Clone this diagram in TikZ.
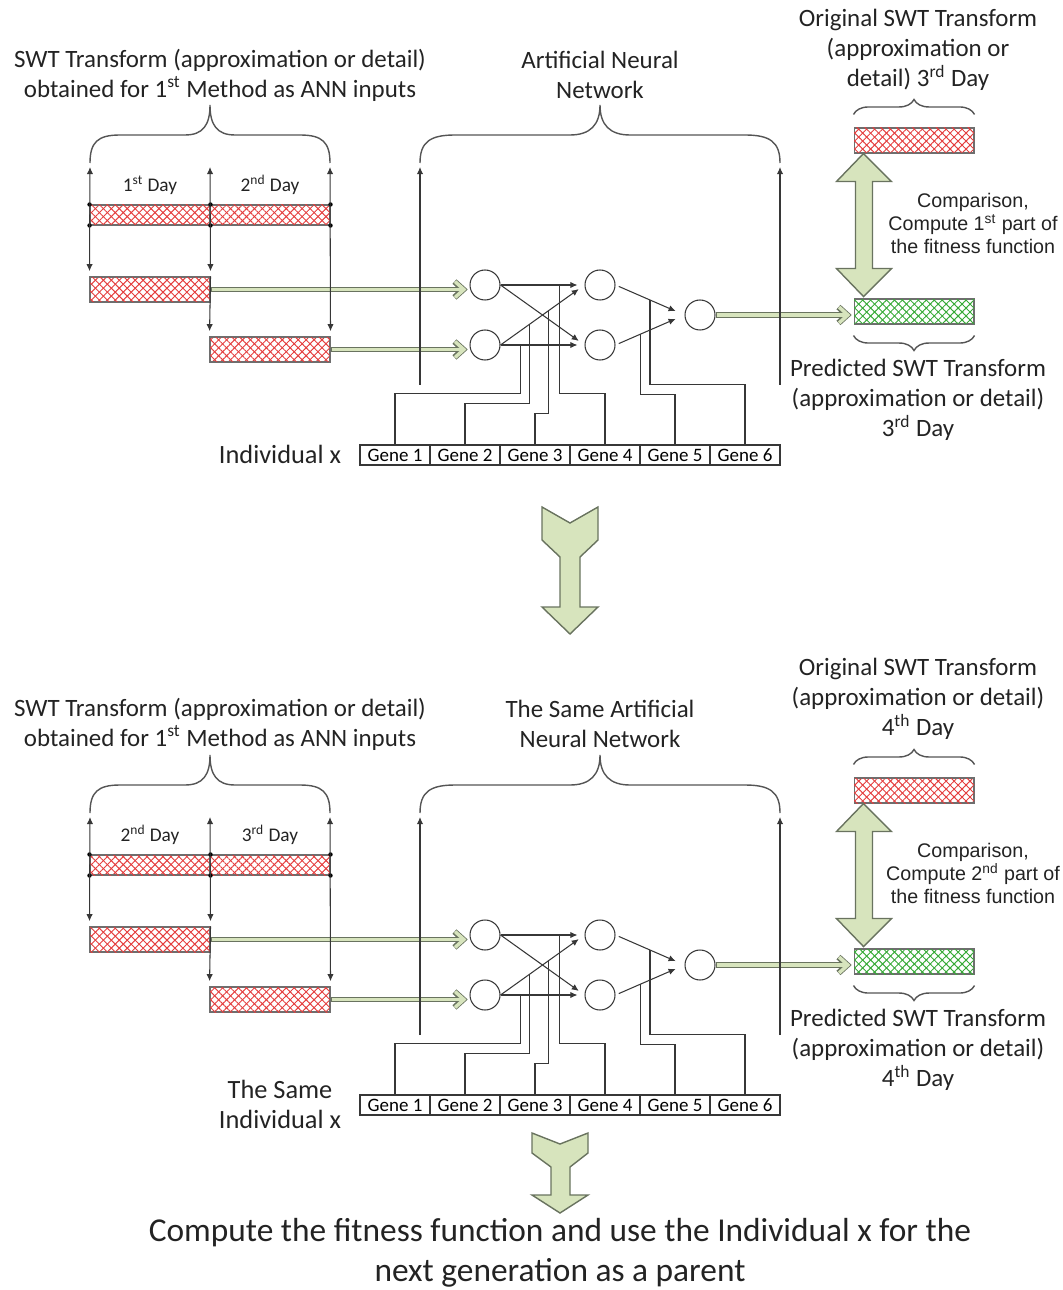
\documentclass[tikz,border=0pt]{standalone}
\usepackage{fontspec}
\setmainfont{Carlito}
\newfontfamily\arialfont{Liberation Sans}
\usetikzlibrary{positioning,calc,arrows.meta,patterns.meta,decorations.pathreplacing}
\definecolor{hatchred}{RGB}{228,62,62}
\definecolor{hatchgreen}{RGB}{55,170,55}
\definecolor{barline}{RGB}{110,110,110}
\definecolor{arrowgreen}{RGB}{215,228,189}
\definecolor{arrowedge}{RGB}{105,115,95}
\definecolor{wirecol}{RGB}{55,55,55}
\definecolor{textcol}{RGB}{35,35,35}
\tikzset{>={Latex[length=4pt,width=3.6pt]},
x=0.02cm,y=-0.02cm,
wire/.style={draw=wirecol,line width=0.6pt},
hatchbar/.style={draw=barline,line width=0.6pt,minimum width=2.4cm,inner sep=0pt,
  pattern={Lines[angle=45,distance=3.2pt,line width=0.55pt]},pattern color=#1,
  postaction={pattern={Lines[angle=-45,distance=3.2pt,line width=0.55pt]},pattern color=#1}},
neuron/.style={circle,draw=wirecol,line width=0.6pt,minimum size=0.6cm,inner sep=0pt},
gene/.style={draw=wirecol,line width=0.6pt,fill=white,minimum width=1.4cm,minimum height=0.4cm,
  inner sep=0pt,font=\fontsize{10.8}{12}\selectfont},
lbl/.style={align=center,text=textcol,font=\fontsize{14.2}{17}\selectfont},
daylbl/.style={text=textcol,font=\fontsize{11}{13}\selectfont},
cmp/.style={align=center,text=textcol,font=\arialfont\fontsize{11.2}{13.1}\selectfont},
bracket/.style={draw=wirecol!85,line width=0.8pt},
blockarrow/.style={draw=arrowedge,fill=arrowgreen,line width=0.8pt,line join=miter},
garrowedge/.style={draw=arrowedge,line width=3.4pt,shorten >=1pt,-{Straight Barb[length=5pt,width=9pt]}},
garrowfill/.style={draw=arrowgreen,line width=2pt,shorten >=1.7pt,shorten <=0.7pt,-{Straight Barb[length=5pt,width=9pt]}},
}
\newcommand{\greenarrow}[2]{%
  \draw[garrowedge] #1 -- #2;
  \draw[garrowfill] #1 -- #2;}

\begin{document}
\begin{tikzpicture}
\useasboundingbox (0,0) rectangle (1062,1290);

% headers
\node[lbl] (swtA) at (220,75) {SWT Transform (approximation or detail)\\obtained for 1\textsuperscript{st} Method as ANN inputs};
\node[lbl] (annA) at (600,75) {Artificial Neural\\Network};
\node[lbl] (origA) at (918,50) {Original SWT Transform\\(approximation or\\detail) 3\textsuperscript{rd} Day};
\node[lbl] (swtB) at (220,724) {SWT Transform (approximation or detail)\\obtained for 1\textsuperscript{st} Method as ANN inputs};
\node[lbl] (annB) at (600,724) {The Same Artificial\\Neural Network};
\node[lbl] (origB) at (918,699) {Original SWT Transform\\(approximation or detail)\\4\textsuperscript{th} Day};

\foreach \oy/\dA/\dB/\dC/\indiv in {0/{1\textsuperscript{st}}/{2\textsuperscript{nd}}/{3\textsuperscript{rd}}/{Individual x},
  650/{2\textsuperscript{nd}}/{3\textsuperscript{rd}}/{4\textsuperscript{th}}/{The Same\\Individual x}} {
\begin{scope}[shift={(0,\oy)}]
% input windows
\node[hatchbar=hatchred,minimum height=0.4cm] (t1) at (150,215) {};
\node[hatchbar=hatchred,minimum height=0.4cm] (t2) at (270,215) {};
\node[hatchbar=hatchred,minimum height=0.5cm] (in1) at (150,289.5) {};
\node[hatchbar=hatchred,minimum height=0.5cm] (in2) at (270,349.5) {};
\node[daylbl] (dayA) at (150,185) {\dA~Day};
\node[daylbl] (dayB) at (270,185) {\dB~Day};
\foreach \c in {t1.north west,t1.north east,t2.north east,t1.south west,t1.south east,t2.south east}
  \fill (\c) circle (2.2);

% target and prediction
\node[hatchbar=hatchred,minimum height=0.5cm] (ob) at (914,140.5) {};
\node[hatchbar=hatchgreen,minimum height=0.5cm] (pb) at (914,311.5) {};
\node[cmp] (cmp) at (973,223) {Comparison,\\Compute \dA{} part of\\the fitness function};
\node[lbl] (pred) at (918,400) {Predicted SWT Transform\\(approximation or detail)\\\dC~Day};

% network
\node[neuron] (i1) at (485,285) {};
\node[neuron] (i2) at (485,345) {};
\node[neuron] (h1) at (600,285) {};
\node[neuron] (h2) at (600,345) {};
\node[neuron] (o) at (700,315) {};
\foreach \g in {1,...,6}
  \node[gene] (g\g) at (325+70*\g,455) {Gene \g};
\node[lbl,font=\fontsize{15}{17}\selectfont] (indiv) at (280,454) {\indiv};

\greenarrow{(in1.east)}{(i1.west |- in1.east)}
\greenarrow{(in2.east)}{(i2.west |- in2.east)}
\greenarrow{(o.east)}{(pb.west |- o.east)}

\draw[wire,->,shorten >=4pt] (i1.east) -- coordinate[pos=0.706] (w4) (h1.west);
\draw[wire,->,shorten >=4pt] (i1.east) -- (h2.west);
\draw[wire,->,shorten >=4pt] (i2.east) -- coordinate[pos=0.34] (w2) coordinate[pos=0.576] (w3) (h1.west);
\draw[wire,->,shorten >=4pt] (i2.east) -- coordinate[pos=0.235] (w1) (h2.west);
\draw[wire,->,shorten <=2pt,shorten >=5.5pt] (h1.east) -- coordinate[pos=0.5] (w6) (o.west);
\draw[wire,->,shorten <=2pt,shorten >=5.5pt] (h2.east) -- coordinate[pos=0.357] (w5) (o.west);

% genes to weights
\draw[wire] (g1.north) -- ++(0,-51) -| (w1);
\draw[wire] (g2.north) -- ++(0,-41) -| (w2);
\draw[wire] (g3.north) -- ++(0,-31) -| (w3);
\draw[wire] (g4.north) -- ++(0,-51) -| (w4);
\draw[wire] (g5.north) -- ++(0,-50) -| (w5);
\draw[wire] (g6.north) -- ++(0,-60) -| (w6);

% day windows
\coordinate (bl) at (90,167);
\coordinate (bm) at (210,167);
\coordinate (br) at (330,167);
\draw[wire,<->,shorten >=3pt] (bl) -- (in1.north west);
\draw[wire,<->,shorten >=3pt] (bm) -- (in1.north east);
\draw[wire,->,shorten >=3pt] (in1.north east) -- (in2.north west);
\draw[wire,<->,shorten >=3pt] (br) -- (in2.north east);
\draw[bracket] (90,163) .. controls (90,142) and (98,135) .. (120,135) -- (185,135)
  .. controls (203,135) and (210,125) .. (210,105) .. controls (210,125) and (217,135) .. (235,135)
  -- (300,135) .. controls (322,135) and (330,142) .. (330,163);

% network bracket
\coordinate (nl) at (420,385);
\coordinate (nr) at (780,385);
\draw[wire,->] (nl) -- (420,167);
\draw[wire,->] (nr) -- (780,167);
\draw[bracket] (420,163) .. controls (420,142) and (430,135) .. (455,135) -- (570,135)
  .. controls (590,135) and (600,125) .. (600,105) .. controls (600,125) and (610,135) .. (630,135)
  -- (745,135) .. controls (770,135) and (780,142) .. (780,163);

% comparison
\draw[blockarrow] ($(ob.south west)+(10,0)$) -- ++(28,28) -- ++(-19,0) -- ++(0,87) -- ++(19,0)
  -- ++(-28,28) -- ++(-27,-28) -- ++(19,0) -- ++(0,-87) -- ++(-19,0) -- cycle;
\draw[bracket,decorate,decoration={brace,amplitude=0.3cm}]
  ($(ob.north west)+(0,-13)$) -- ($(ob.north east)+(0,-13)$);
\draw[bracket,decorate,decoration={brace,amplitude=0.3cm}]
  ($(pb.south east)+(0,11)$) -- ($(pb.south west)+(0,11)$);
\end{scope}
}

% next step arrows
\draw[blockarrow] (542,507) -- (570,523) -- (598,507) -- (598,540) -- (580,557) -- (580,607)
  -- (598,607) -- (570,634) -- (542,607) -- (560,607) -- (560,557) -- (542,540) -- cycle;
\draw[blockarrow] (532,1133) -- (560,1144) -- (588,1133) -- (588,1153) -- (570,1167) -- (570,1195)
  -- (588,1195) -- (560,1213) -- (532,1195) -- (551,1195) -- (551,1167) -- (532,1153) -- cycle;
\node[align=center,text=textcol,font=\fontsize{19}{22.8}\selectfont] (final) at (560,1253)
  {Compute the fitness function and use the Individual x for the\\next generation as a parent};
\end{tikzpicture}
\end{document}
